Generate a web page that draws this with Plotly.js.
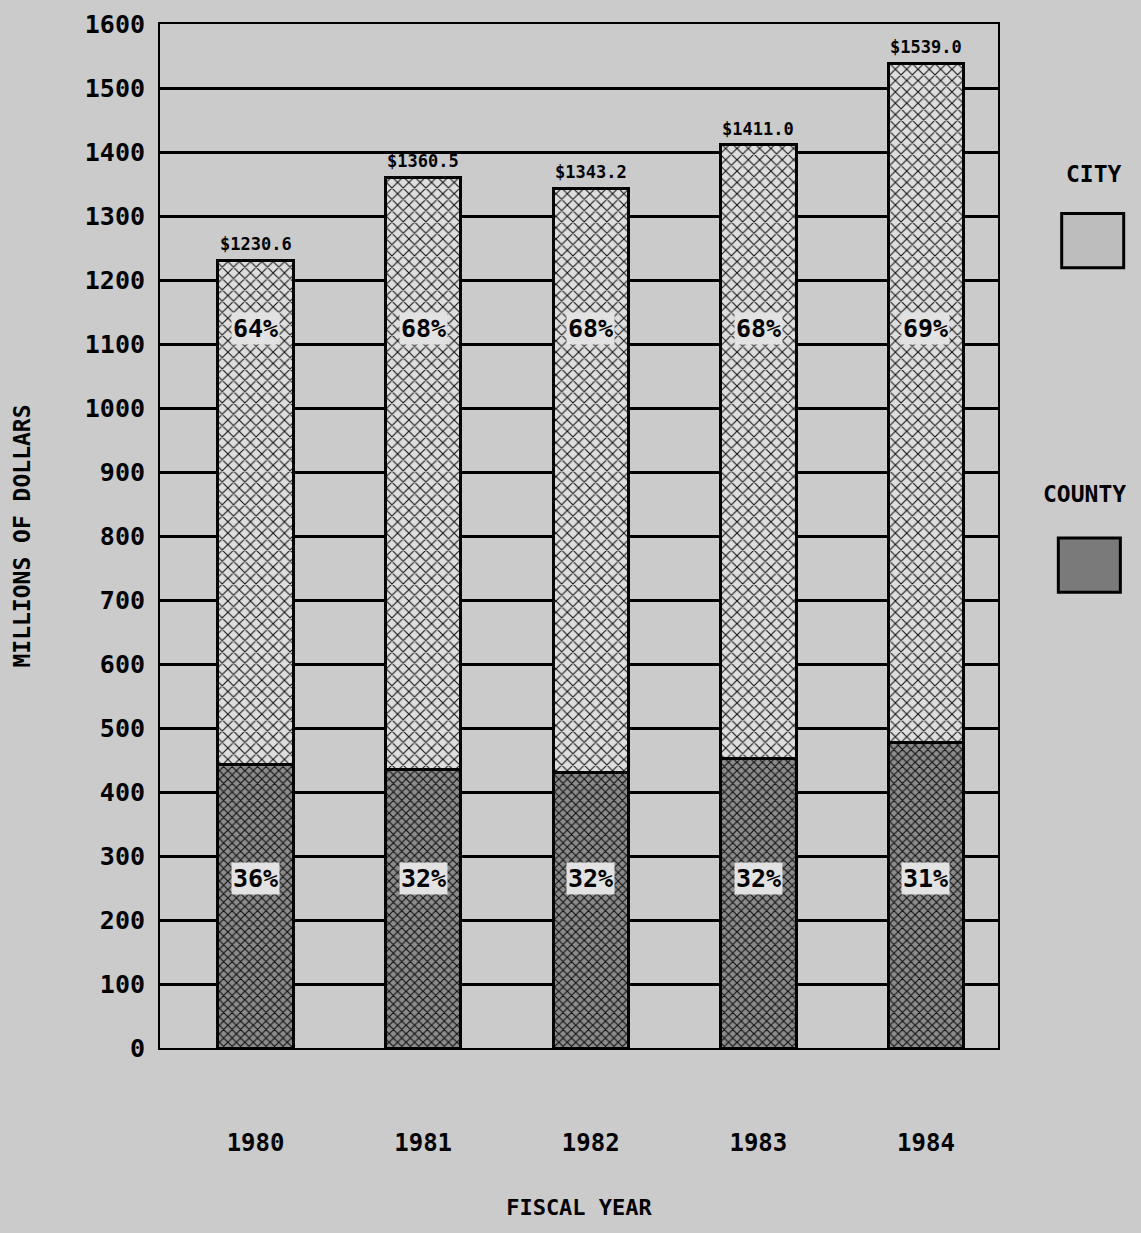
<!DOCTYPE html>
<html>
<head>
<meta charset="utf-8">
<script src="https://cdn.plot.ly/plotly-3.0.1.min.js"></script>
<style>html,body{margin:0;padding:0;background:#cbcbcb;}#chart{width:1141px;height:1233px;}</style>
</head>
<body>
<div id="chart"></div>
<script>
const years = ['1980', '1981', '1982', '1983', '1984'];
const countyValues = [443, 435, 430, 452, 477];
const cityValues = [787.6, 925.5, 913.2, 959, 1062];
const totalLabels = ['$1230.6', '$1360.5', '$1343.2', '$1411.0', '$1539.0'];
const cityPct = ['64%', '68%', '68%', '68%', '69%'];
const countyPct = ['36%', '32%', '32%', '32%', '31%'];
const yTicks = [0,100,200,300,400,500,600,700,800,900,1000,1100,1200,1300,1400,1500,1600];

const F = 'DejaVu Sans Mono, monospace';
const totals = years.map((y, i) => countyValues[i] + cityValues[i]);

const traces = [
  {
    type: 'bar', name: 'COUNTY', x: years, y: countyValues,
    marker: {color: '#7a7a7a', line: {color: '#000', width: 3},
      pattern: {shape: 'x', bgcolor: '#8c8c8c', fgcolor: '#111', size: 6, solidity: 0.35}},
    hoverinfo: 'skip', showlegend: false
  },
  {
    type: 'bar', name: 'CITY', x: years, y: cityValues,
    marker: {color: '#c8c8c8', line: {color: '#000', width: 3},
      pattern: {shape: 'x', bgcolor: '#dedede', fgcolor: '#111', size: 8, solidity: 0.25}},
    hoverinfo: 'skip', showlegend: false
  }
];

const annotations = [];
years.forEach((yr, i) => {
  annotations.push({x: i, y: totals[i], text: totalLabels[i], showarrow: false, yanchor: 'bottom', yshift: 4,
    font: {family: F, size: 17, color: '#000', weight: 'bold'}});
  annotations.push({x: i, y: 1125, text: cityPct[i], showarrow: false, bgcolor: '#e2e2e2',
    font: {family: F, size: 25, color: '#000', weight: 'bold'}});
  annotations.push({x: i, y: 265, text: countyPct[i], showarrow: false, bgcolor: '#e2e2e2',
    font: {family: F, size: 25, color: '#000', weight: 'bold'}});
});
annotations.push({xref: 'paper', yref: 'paper', x: 1.115, y: 0.868, xanchor: 'center', text: 'CITY', showarrow: false,
  font: {family: F, size: 23, color: '#000', weight: 'bold'}});
annotations.push({xref: 'paper', yref: 'paper', x: 1.103, y: 0.541, xanchor: 'center', text: 'COUNTY', showarrow: false,
  font: {family: F, size: 23, color: '#000', weight: 'bold'}});

const shapes = [
  {type: 'rect', xref: 'paper', yref: 'paper', x0: 1.076, x1: 1.15, y0: 0.762, y1: 0.815,
    fillcolor: '#bdbdbd', line: {color: '#000', width: 3}},
  {type: 'rect', xref: 'paper', yref: 'paper', x0: 1.072, x1: 1.146, y0: 0.445, y1: 0.498,
    fillcolor: '#7a7a7a', line: {color: '#000', width: 3}}
];

const layout = {
  width: 1141, height: 1233,
  margin: {l: 160, r: 143, t: 24, b: 185},
  paper_bgcolor: '#cbcbcb', plot_bgcolor: '#cbcbcb',
  barmode: 'stack', bargap: 0.55,
  showlegend: false,
  xaxis: {
    type: 'category', range: [-0.57, 4.43], showgrid: false, zeroline: false,
    showline: true, linecolor: '#000', linewidth: 2, mirror: true,
    ticks: '', ticklabelstandoff: 72,
    tickfont: {family: F, size: 24, color: '#000', weight: 'bold'},
    title: {text: 'FISCAL YEAR', standoff: 44, font: {family: F, size: 22, color: '#000', weight: 'bold'}}
  },
  yaxis: {
    range: [0, 1600], tickvals: yTicks, ticktext: yTicks.map(String),
    showgrid: true, gridcolor: '#000', gridwidth: 3, zeroline: false,
    showline: true, linecolor: '#000', linewidth: 2, mirror: true,
    ticks: '', ticklabelstandoff: 8,
    tickfont: {family: F, size: 25, color: '#000', weight: 'bold'},
    title: {text: 'MILLIONS OF DOLLARS', standoff: 48, font: {family: F, size: 23, color: '#000', weight: 'bold'}}
  },
  annotations: annotations,
  shapes: shapes
};

Plotly.newPlot('chart', traces, layout, {staticPlot: true, displayModeBar: false});
</script>
</body>
</html>
